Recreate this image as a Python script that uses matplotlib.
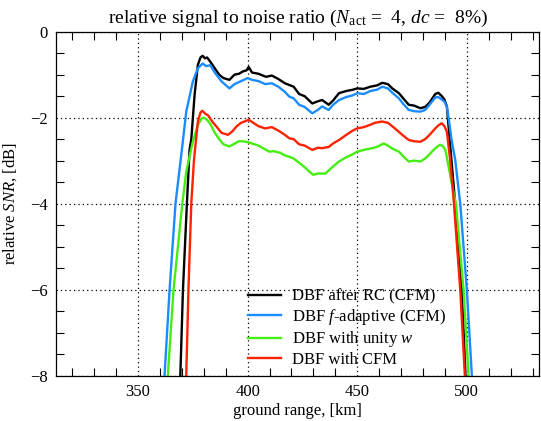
"""Relative SNR vs ground range for four DBF variants."""

import matplotlib
matplotlib.use("Agg")
import matplotlib.pyplot as plt
from matplotlib.ticker import MultipleLocator

plt.rcParams["font.family"] = ["Liberation Serif", "DejaVu Serif"]
plt.rcParams["mathtext.fontset"] = "custom"
plt.rcParams["mathtext.rm"] = "Liberation Serif"
plt.rcParams["mathtext.it"] = "Liberation Serif:italic"

# --- data (ground range [km], relative SNR [dB]) ---
black_x = [369.3, 370.5, 372.3, 373.5, 374.3, 375.8, 377.3, 378.5, 379.5, 380.5,
           381.5, 383, 385, 387, 389, 391.7, 394, 396, 398, 399.5, 400.5, 402,
           405, 408.4, 411, 414, 417, 419, 421, 423.5, 426, 429.5, 432, 434, 437,
           439, 441.7, 445, 448, 450, 453, 456, 459, 461.4, 464, 466, 469, 471,
           473.5, 476, 478.8, 481, 483, 485.6, 487, 488.6, 489.8, 490.9, 492,
           493.3, 494.7, 496, 497.7, 499.4]
black_y = [-8, -6, -4, -2.75, -2.5, -1.47, -0.77, -0.6, -0.56, -0.62, -0.6, -0.7,
           -0.85, -1.0, -1.08, -1.12, -1.0, -0.98, -0.92, -0.9, -0.82, -0.95,
           -0.98, -1.05, -1.02, -1.1, -1.2, -1.24, -1.28, -1.45, -1.5, -1.67,
           -1.62, -1.59, -1.7, -1.6, -1.43, -1.38, -1.35, -1.32, -1.33, -1.28,
           -1.25, -1.19, -1.22, -1.32, -1.43, -1.55, -1.7, -1.72, -1.78, -1.75,
           -1.65, -1.45, -1.42, -1.5, -1.58, -1.74, -2.4, -3.17, -4.0, -5.0,
           -6.0, -8.0]

blue_x = [362.1, 364.4, 367.1, 369, 370, 372, 375, 377.3, 379.5, 381, 383, 385,
          388, 391.7, 394, 397, 400, 402, 405, 408, 411, 414, 417, 419, 421,
          423.5, 426, 429.5, 432, 434, 437, 439, 441.7, 445, 448, 450, 453, 456,
          459, 461.4, 464, 466, 469, 471, 473.5, 476, 478.8, 481, 483, 485.6,
          487, 488.6, 489.8, 490.9, 491.7, 493, 494.7, 497, 500, 502.3]
blue_y = [-8, -6, -4, -3.18, -2.75, -1.86, -1.16, -0.85, -0.74, -0.8, -0.78,
          -0.95, -1.15, -1.32, -1.22, -1.15, -1.08, -1.12, -1.15, -1.22, -1.2,
          -1.28, -1.4, -1.51, -1.55, -1.7, -1.75, -1.9, -1.82, -1.74, -1.82,
          -1.7, -1.59, -1.52, -1.48, -1.43, -1.45, -1.38, -1.35, -1.28, -1.32,
          -1.42, -1.55, -1.68, -1.82, -1.85, -1.86, -1.82, -1.7, -1.53, -1.52,
          -1.58, -1.63, -1.75, -2.01, -2.5, -2.98, -4.0, -6.0, -8.0]

green_x = [363.6, 366.2, 370.2, 372, 373.5, 375, 377.3, 379, 380, 381.5, 383,
           385, 387, 389, 391.7, 393.5, 396, 398, 400, 402, 405, 409.8, 412, 415,
           417, 419, 421, 423.5, 426, 428, 430, 432, 435.5, 438, 441.7, 445, 448,
           450, 453, 457, 459, 462, 464, 466, 469, 471, 473.5, 476, 478.8, 481,
           483, 485.6, 487.8, 489, 490.2, 491.7, 493, 495, 498.5, 500.8]
green_y = [-8, -6, -4, -3.26, -2.9, -2.56, -2.17, -2.02, -2.0, -2.05, -2.15,
           -2.35, -2.5, -2.62, -2.67, -2.62, -2.55, -2.55, -2.57, -2.6, -2.65,
           -2.79, -2.78, -2.82, -2.88, -2.91, -2.95, -3.05, -3.15, -3.25, -3.33,
           -3.3, -3.3, -3.18, -3.02, -2.92, -2.85, -2.79, -2.75, -2.71, -2.68,
           -2.6, -2.65, -2.72, -2.79, -2.9, -3.02, -3.0, -3.02, -2.95, -2.85,
           -2.71, -2.63, -2.66, -2.75, -3.14, -3.5, -4.0, -6.0, -8.0]

red_x = [372, 373, 374.3, 375.5, 377.3, 378.5, 379.3, 380.5, 382, 384, 386, 388,
         391, 393, 395, 397, 399, 400.5, 402, 405, 408, 411, 414, 417, 419, 421,
         423.5, 426, 429.5, 432, 434, 437, 439, 441.7, 445, 448, 450, 453, 455.8,
         458, 461.4, 464, 466, 469, 471, 473.5, 476, 478.8, 481, 483, 485.6, 487,
         488.6, 489.8, 490.9, 492.4, 494, 497, 499.1]
red_y = [-8, -6, -4, -3.0, -2.09, -1.88, -1.84, -1.9, -1.95, -2.1, -2.22, -2.35,
         -2.4, -2.32, -2.2, -2.12, -2.08, -2.05, -2.1, -2.2, -2.25, -2.22, -2.3,
         -2.4, -2.48, -2.5, -2.62, -2.65, -2.75, -2.7, -2.71, -2.68, -2.6, -2.52,
         -2.4, -2.3, -2.25, -2.22, -2.17, -2.12, -2.09, -2.12, -2.2, -2.33, -2.42,
         -2.52, -2.55, -2.56, -2.5, -2.4, -2.25, -2.18, -2.13, -2.2, -2.33, -2.98,
         -3.92, -6.0, -8.0]

labels = ["DBF after RC (CFM)", "DBF $f$-adaptive (CFM)",
          "DBF with unity $w$", "DBF with CFM"]

fig = plt.figure(figsize=(5.41, 4.21), dpi=100)
ax = fig.add_axes([0.104, 0.108, 0.893, 0.8167])

lw = 1.7
ax.plot(black_x, black_y, color="black", lw=lw, label=labels[0])
ax.plot(blue_x, blue_y, color="#1a8cff", lw=lw, label=labels[1])
ax.plot(green_x, green_y, color="#44ee11", lw=lw, label=labels[2])
ax.plot(red_x, red_y, color="#ff2200", lw=lw, label=labels[3])

ax.set_xlim(312.7, 533.1)
ax.set_ylim(-8, 0)
ax.xaxis.set_major_locator(MultipleLocator(50))
ax.xaxis.set_minor_locator(MultipleLocator(10))
ax.yaxis.set_major_locator(MultipleLocator(2))
ax.yaxis.set_minor_locator(MultipleLocator(0.5))
ax.tick_params(which="both", direction="in", top=True, right=True,
               labelsize=12, pad=6)
ax.tick_params(which="major", length=0)
ax.tick_params(which="minor", length=5.5, width=0.8)
ax.grid(True, which="major", color="black", lw=0.9, ls=(0, (1, 2.5)))
for sp in ax.spines.values():
    sp.set_linewidth(0.9)

ax.set_xlabel("ground range, [km]", fontsize=12, labelpad=2)
ax.set_ylabel("relative $SNR$, [dB]", fontsize=12, labelpad=8)
ax.set_title(r"relative signal to noise ratio ($N_{\rm act}$ =  4, $dc$ =  8%)",
             fontsize=14, pad=6)

ax.legend(loc="lower left", bbox_to_anchor=(0.373, -0.012), frameon=False,
          fontsize=12, handlelength=1.95, handletextpad=0.7, labelspacing=0.15,
          borderaxespad=0.3)

fig.savefig("out.png", dpi=100)
